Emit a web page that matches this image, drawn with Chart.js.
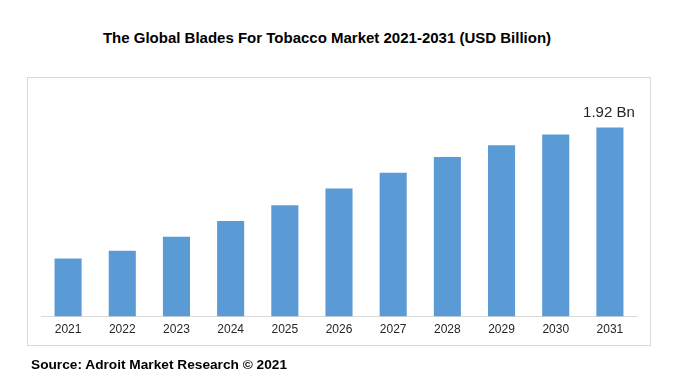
<!DOCTYPE html>
<html>
<head>
<meta charset="utf-8">
<script src="https://cdn.jsdelivr.net/npm/chart.js@4"></script>
<style>
  body { margin: 0; background: #fff; width: 698px; height: 386px; overflow: hidden; position: relative; font-family: "Liberation Sans", Arial, sans-serif; }
  #titulo { position: absolute; left: 0; top: 29px; width: 654px; text-align: center; font-weight: bold; font-size: 15px; color: #000; }
  #caixa { position: absolute; left: 27px; top: 77px; width: 624px; height: 269px; border: 1px solid #d9d9d9; box-sizing: border-box; }
  #fonte { position: absolute; left: 31px; top: 357px; font-weight: bold; font-size: 13.7px; color: #000; }
  #grafico-wrap { position: absolute; left: 0; top: 0; width: 698px; height: 386px; }
</style>
</head>
<body>
<div id="caixa"></div>
<div id="titulo">The Global Blades For Tobacco Market 2021-2031 (USD Billion)</div>
<div id="grafico-wrap"><canvas id="grafico"></canvas></div>
<div id="fonte">Source: Adroit Market Research © 2021</div>
<script>
// Dados do gráfico
const anos = ['2021', '2022', '2023', '2024', '2025', '2026', '2027', '2028', '2029', '2030', '2031'];
const valores = [0.59, 0.67, 0.81, 0.97, 1.13, 1.30, 1.46, 1.62, 1.74, 1.85, 1.92];
const rotuloFinal = '1.92 Bn';

// Plugin para escrever o rótulo da última barra
const rotuloPlugin = {
  id: 'rotuloFinal',
  afterDatasetsDraw(chart) {
    const ctx = chart.ctx;
    const meta = chart.getDatasetMeta(0);
    const barra = meta.data[meta.data.length - 1];
    ctx.save();
    ctx.font = '15px "Liberation Sans", Arial, sans-serif';
    ctx.fillStyle = '#262626';
    ctx.textAlign = 'center';
    ctx.textBaseline = 'bottom';
    ctx.fillText(rotuloFinal, barra.x - 1, barra.y - 7);
    ctx.restore();
  }
};

const ctx = document.getElementById('grafico').getContext('2d');
new Chart(ctx, {
  type: 'bar',
  data: {
    labels: anos,
    datasets: [{
      data: valores,
      backgroundColor: '#5b9bd5',
      categoryPercentage: 1,
      barPercentage: 0.5
    }]
  },
  options: {
    responsive: true,
    maintainAspectRatio: false,
    animation: false,
    layout: { padding: { left: 41, right: 61, top: 100, bottom: 43 } },
    plugins: {
      legend: { display: false },
      tooltip: { enabled: false }
    },
    scales: {
      x: {
        grid: { display: false, drawTicks: false },
        border: { display: true, color: '#d9d9d9', width: 1 },
        ticks: {
          color: '#262626',
          padding: 6,
          font: { family: '"Liberation Sans", Arial, sans-serif', size: 12 }
        }
      },
      y: {
        display: false,
        min: 0,
        max: 2.2
      }
    }
  },
  plugins: [rotuloPlugin]
});
</script>
</body>
</html>
